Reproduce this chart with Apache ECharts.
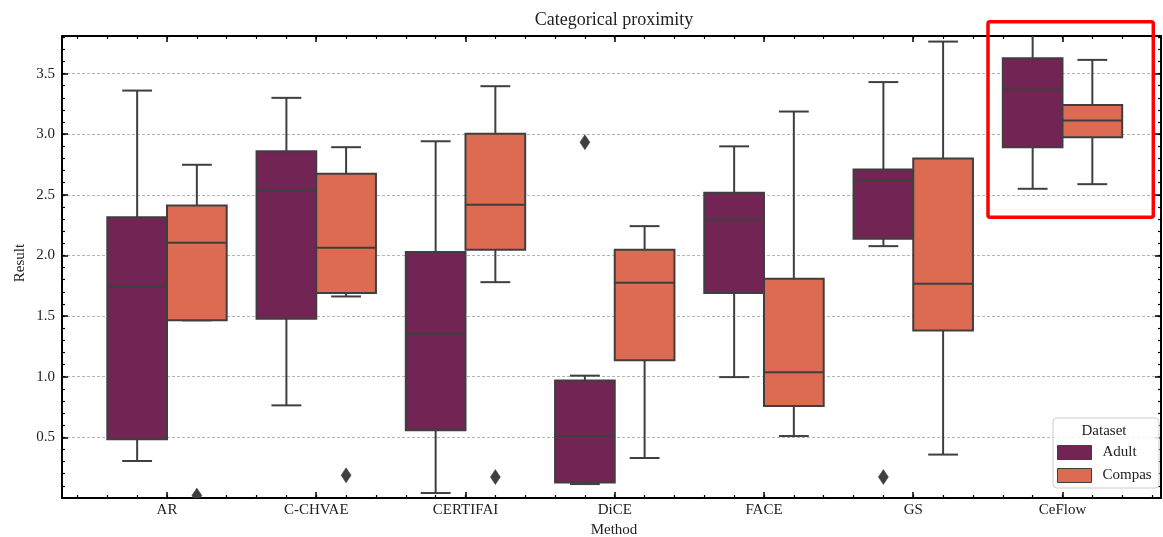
<!DOCTYPE html>
<html>
<head>
<meta charset="utf-8">
<script src="https://cdn.jsdelivr.net/npm/echarts@6/dist/echarts.min.js"></script>
<style>html,body{margin:0;padding:0;background:#fff}#c{width:1163px;height:537px}</style>
</head>
<body>
<div id="c"></div>
<script>
// ---- data ----
const methods = ['AR', 'C-CHVAE', 'CERTIFAI', 'DiCE', 'FACE', 'GS', 'CeFlow'];
const datasets = ['Adult', 'Compas'];
// [lower whisker, Q1, median, Q3, upper whisker]
const adultBoxes = [
  [0.305, 0.484, 1.745, 2.316, 3.36],
  [0.764, 1.478, 2.536, 2.86, 3.30],
  [0.041, 0.558, 1.355, 2.028, 2.942],
  [0.115, 0.127, 0.511, 0.970, 1.009],
  [0.997, 1.69, 2.297, 2.517, 2.90],
  [2.077, 2.138, 2.618, 2.709, 3.43],
  [2.55, 2.893, 3.366, 3.627, 3.82]
];
const compasBoxes = [
  [1.465, 1.465, 2.105, 2.412, 2.748],
  [1.662, 1.69, 2.064, 2.674, 2.893],
  [1.78, 2.047, 2.418, 3.003, 3.396],
  [0.33, 1.135, 1.775, 2.047, 2.242],
  [0.511, 0.758, 1.038, 1.808, 3.187],
  [0.358, 1.382, 1.767, 2.80, 3.764],
  [2.588, 2.975, 3.113, 3.242, 3.613]
];
// [method index, value]
const adultOutliers = [[3, 2.934], [5, 0.173]];
const compasOutliers = [[0, 0.02], [1, 0.187], [2, 0.173]];
const yTickLabels = ['0.5', '1.0', '1.5', '2.0', '2.5', '3.0', '3.5'];

// ---- styling ----
const COLORS = ['#722555', '#dd6b51'];
const EDGE = '#3f3f3f';
const FONT = "'Liberation Serif', 'DejaVu Serif', serif";
const TXT = '#222222';
const X_MIN = -0.7035, X_MAX = 6.66, Y_MIN = 0, Y_MAX = 3.81;
const xMajor = methods.map((m, i) => i);
const xMinor = Array.from({length: 37}, (_, i) => +(-0.6 + 0.2 * i).toFixed(1));
const yMinor = Array.from({length: 38}, (_, i) => +(0.1 * (i + 1)).toFixed(1));

function boxRenderer(offset) {
  return function (params, api) {
    const i = api.value(0);
    const lo = api.value(1), q1 = api.value(2), med = api.value(3), q3 = api.value(4), hi = api.value(5);
    const cx = i + offset;
    const c = (x, y) => api.coord([x, y]);
    const ls = {stroke: EDGE, lineWidth: 2};
    const mk = (a, b) => ({type: 'line', shape: {x1: a[0], y1: a[1], x2: b[0], y2: b[1]}, style: ls});
    const tl = c(cx - 0.2, q3), br = c(cx + 0.2, q1);
    return {
      type: 'group',
      children: [
        mk(c(cx, q3), c(cx, hi)),
        mk(c(cx, q1), c(cx, lo)),
        mk(c(cx - 0.1, hi), c(cx + 0.1, hi)),
        mk(c(cx - 0.1, lo), c(cx + 0.1, lo)),
        {type: 'rect', shape: {x: tl[0], y: tl[1], width: br[0] - tl[0], height: br[1] - tl[1]},
         style: {fill: api.visual('color'), stroke: EDGE, lineWidth: 2}},
        mk(c(cx - 0.2, med), c(cx + 0.2, med))
      ]
    };
  };
}
function outlierRenderer(offset) {
  return function (params, api) {
    const p = api.coord([api.value(0) + offset, api.value(1)]);
    const w = 5, h = 7.5;
    return {type: 'polygon', shape: {points: [[p[0], p[1] - h], [p[0] + w, p[1]], [p[0], p[1] + h], [p[0] - w, p[1]]]},
            style: {fill: EDGE, stroke: EDGE, lineWidth: 0.5}};
  };
}

const boxData = (arr) => arr.map((b, i) => [i].concat(b));

const chart = echarts.init(document.getElementById('c'), null, {renderer: 'canvas'});
const baseX = {type: 'value', min: X_MIN, max: X_MAX, splitLine: {show: false}};
const baseY = {type: 'value', min: Y_MIN, max: Y_MAX, interval: 0.5, splitLine: {show: false}};
const spine = {show: true, onZero: false, lineStyle: {color: '#000', width: 2}};
const noLine = {show: false, onZero: false};
chart.setOption({
  animation: false,
  backgroundColor: '#fff',
  grid: {left: 62, right: 2, top: 36, bottom: 39, containLabel: false},
  xAxis: [
    Object.assign({}, baseX, {position: 'bottom', axisLine: spine,
      axisTick: {show: true, inside: true, length: 6, customValues: xMajor, lineStyle: {color: '#000', width: 1.5}},
      axisLabel: {show: true, customValues: xMajor, margin: 5, fontSize: 15, fontFamily: FONT, color: TXT,
        formatter: v => methods[Math.round(v)]}}),
    Object.assign({}, baseX, {position: 'bottom', axisLine: noLine,
      axisTick: {show: true, inside: true, length: 3, customValues: xMinor, lineStyle: {color: '#000', width: 1.2}},
      axisLabel: {show: false}}),
    Object.assign({}, baseX, {position: 'top', axisLine: spine,
      axisTick: {show: true, inside: true, length: 6, customValues: xMajor, lineStyle: {color: '#000', width: 1.5}},
      axisLabel: {show: false}}),
    Object.assign({}, baseX, {position: 'top', axisLine: noLine,
      axisTick: {show: true, inside: true, length: 3, customValues: xMinor, lineStyle: {color: '#000', width: 1.2}},
      axisLabel: {show: false}})
  ],
  yAxis: [
    Object.assign({}, baseY, {position: 'left', axisLine: spine,
      axisTick: {show: true, inside: true, length: 6, lineStyle: {color: '#000', width: 1.5}},
      axisLabel: {show: true, margin: 7, fontSize: 15, fontFamily: FONT, color: TXT, showMinLabel: false, showMaxLabel: false,
        formatter: v => { const s = v.toFixed(1); return yTickLabels.indexOf(s) >= 0 ? s : ''; }},
      splitLine: {show: true, lineStyle: {color: '#b4b4b4', width: 1, type: [3, 2]}}}),
    Object.assign({}, baseY, {position: 'left', axisLine: noLine,
      axisTick: {show: true, inside: true, length: 3, customValues: yMinor, lineStyle: {color: '#000', width: 1.2}},
      axisLabel: {show: false}}),
    Object.assign({}, baseY, {position: 'right', axisLine: spine,
      axisTick: {show: true, inside: true, length: 6, lineStyle: {color: '#000', width: 1.5}},
      axisLabel: {show: false}}),
    Object.assign({}, baseY, {position: 'right', axisLine: noLine,
      axisTick: {show: true, inside: true, length: 3, customValues: yMinor, lineStyle: {color: '#000', width: 1.2}},
      axisLabel: {show: false}})
  ],
  legend: {
    data: datasets, orient: 'vertical', left: 1057, top: 445, padding: 0, itemGap: 8,
    itemWidth: 34, itemHeight: 14, icon: 'rect', z: 20,
    itemStyle: {borderColor: EDGE, borderWidth: 1},
    textStyle: {fontSize: 15, fontFamily: FONT, color: TXT, padding: [0, 0, 0, 6]}
  },
  graphic: [
    {type: 'text', x: 614, y: 20, z: 20, style: {text: 'Categorical proximity', font: '18px ' + FONT, fill: TXT, textAlign: 'center', textVerticalAlign: 'middle'}},
    {type: 'text', x: 614, y: 530, z: 20, style: {text: 'Method', font: '15px ' + FONT, fill: TXT, textAlign: 'center', textVerticalAlign: 'middle'}},
    {type: 'text', x: 20, y: 263, rotation: Math.PI / 2, z: 20, style: {text: 'Result', font: '15px ' + FONT, fill: TXT, textAlign: 'center', textVerticalAlign: 'middle'}},
    {type: 'rect', z: 15, shape: {x: 1053, y: 418, width: 106, height: 70, r: 4}, style: {fill: 'rgba(255,255,255,0.85)', stroke: '#cccccc', lineWidth: 1}},
    {type: 'text', x: 1104, y: 431, z: 20, style: {text: 'Dataset', font: '15px ' + FONT, fill: TXT, textAlign: 'center', textVerticalAlign: 'middle'}},
    {type: 'rect', z: 30, shape: {x: 988, y: 21.7, width: 165.3, height: 195.6, r: 2}, style: {fill: 'none', stroke: '#ff0000', lineWidth: 3.5}}
  ],
  series: [
    {name: 'Adult', type: 'custom', xAxisIndex: 0, yAxisIndex: 0, clip: true, renderItem: boxRenderer(-0.2),
     itemStyle: {color: COLORS[0]}, encode: {x: 0, y: [1, 2, 3, 4, 5]}, data: boxData(adultBoxes), z: 3},
    {name: 'Compas', type: 'custom', xAxisIndex: 0, yAxisIndex: 0, clip: true, renderItem: boxRenderer(0.2),
     itemStyle: {color: COLORS[1]}, encode: {x: 0, y: [1, 2, 3, 4, 5]}, data: boxData(compasBoxes), z: 3},
    {name: 'Adult outliers', type: 'custom', xAxisIndex: 0, yAxisIndex: 0, clip: true, renderItem: outlierRenderer(-0.2),
     encode: {x: 0, y: 1}, data: adultOutliers, z: 4},
    {name: 'Compas outliers', type: 'custom', xAxisIndex: 0, yAxisIndex: 0, clip: true, renderItem: outlierRenderer(0.2),
     encode: {x: 0, y: 1}, data: compasOutliers, z: 4}
  ]
});
</script>
</body>
</html>
